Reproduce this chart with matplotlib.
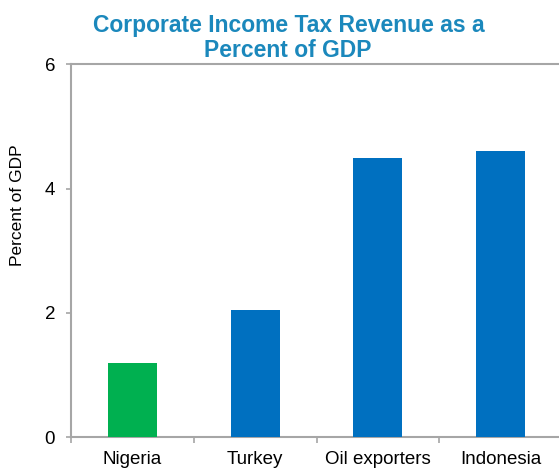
import matplotlib
matplotlib.use("Agg")
import matplotlib.pyplot as plt
from matplotlib.ticker import FixedLocator, NullFormatter

categories = ["Nigeria", "Turkey", "Oil exporters", "Indonesia"]
values = [1.2, 2.04, 4.5, 4.6]
colors = ["#00B050", "#0070C0", "#0070C0", "#0070C0"]
yticks = [0, 2, 4, 6]

plt.rcParams["font.family"] = ["Liberation Sans", "DejaVu Sans"]

W, H = 559, 469
fig = plt.figure(figsize=(W / 100, H / 100), dpi=100)
left, right, top, bottom = 71, 562, 64.3, 437.3
ax = fig.add_axes([left / W, 1 - bottom / H, (right - left) / W, (bottom - top) / H])

x = list(range(len(categories)))
ax.bar(x, values, width=0.4, color=colors, zorder=3)

ax.set_xlim(-0.5, 3.5)
ax.set_ylim(0, 6)

grey = "#A6A6A6"
for side in ("left", "bottom", "top"):
    ax.spines[side].set_color(grey)
    ax.spines[side].set_linewidth(1.5)
    ax.spines[side].set_zorder(2)
ax.spines["right"].set_visible(False)

ax.set_yticks(yticks)
ax.set_yticklabels([str(t) for t in yticks], fontsize=13.5)
ax.tick_params(axis="y", direction="out", length=3.5, width=1.2, color=grey, pad=8)

ax.set_xticks(x)
ax.set_xticklabels(categories, fontsize=13.5)
ax.tick_params(axis="x", which="major", length=0, pad=10)
ax.xaxis.set_minor_locator(FixedLocator([-0.5, 0.5, 1.5, 2.5]))
ax.xaxis.set_minor_formatter(NullFormatter())
ax.tick_params(axis="x", which="minor", direction="out", length=4, width=1.2, color=grey)

fig.text(18 / W, 1 - 205.5 / H, "Percent of GDP", rotation=90,
         ha="center", va="center", fontsize=12.5)

title_color = "#1B88BC"
fig.text(289 / W, 1 - 32.3 / H, "Corporate Income Tax Revenue as a",
         ha="center", va="baseline", fontsize=16.5, fontweight="bold", color=title_color)
fig.text(288 / W, 1 - 57.3 / H, "Percent of GDP",
         ha="center", va="baseline", fontsize=16.5, fontweight="bold", color=title_color)

fig.savefig("out.png", dpi=100)
